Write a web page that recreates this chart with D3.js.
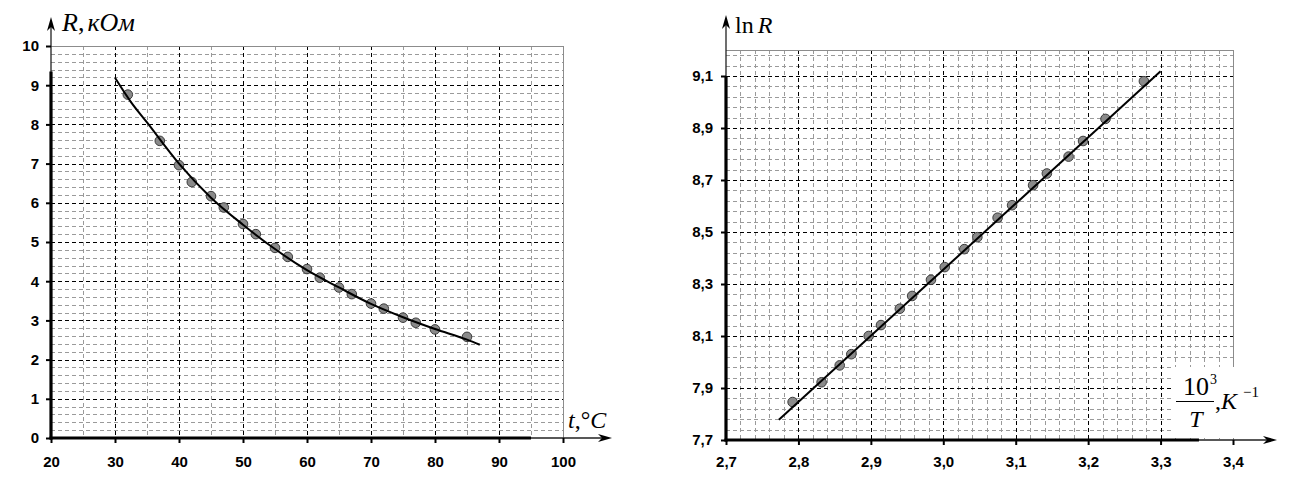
<!DOCTYPE html>
<html>
<head>
<meta charset="utf-8">
<script src="https://cdnjs.cloudflare.com/ajax/libs/d3/7.8.5/d3.min.js"></script>
<style>
    body { margin: 0; background: #fff; }
    svg { display: block; }
    .tick text { font-family: Arial, "Liberation Sans", sans-serif; font-weight: bold; font-size: 15px; fill: #000; }
    .math { font-family: "Times New Roman", "Liberation Serif", serif; fill: #000; }
</style>
</head>
<body>
<div id="chart-area"></div>
<script>
// LEFT: R (kOhm) vs t (°C)
var tempC = [32, 37, 40, 42, 45, 47, 50, 52, 55, 57, 60, 62, 65, 67, 70, 72, 75, 77, 80, 85];
var resistK = [8.76, 7.58, 6.96, 6.53, 6.17, 5.88, 5.46, 5.20, 4.85, 4.62, 4.31, 4.09, 3.84, 3.67, 3.43, 3.30, 3.07, 2.94, 2.77, 2.58];
var fitTemp = [30, 32.5, 35, 40, 45, 50, 55, 60, 65, 70, 75, 80, 85, 87];
var fitResist = [9.19, 8.57, 8.05, 7.0, 6.13, 5.44, 4.82, 4.28, 3.84, 3.42, 3.08, 2.78, 2.51, 2.38];
var tempTicks = [20, 30, 40, 50, 60, 70, 80, 90, 100];
var resistTicks = [0, 1, 2, 3, 4, 5, 6, 7, 8, 9, 10];

// RIGHT: ln R vs 10^3/T
var invTemp = [2.792, 2.832, 2.857, 2.873, 2.897, 2.914, 2.940, 2.957, 2.983, 3.002, 3.029, 3.047, 3.075, 3.095, 3.124, 3.143, 3.173, 3.193, 3.224, 3.277];
var lnResist = [7.846, 7.922, 7.987, 8.030, 8.100, 8.142, 8.205, 8.254, 8.316, 8.365, 8.434, 8.480, 8.555, 8.603, 8.680, 8.725, 8.790, 8.850, 8.935, 9.080];
var lineInvTemp = [2.773, 3.300];
var lineLnResist = [7.778, 9.118];
var invTempTicks = [2.7, 2.8, 2.9, 3.0, 3.1, 3.2, 3.3, 3.4];
var lnTicks = [7.7, 7.9, 8.1, 8.3, 8.5, 8.7, 8.9, 9.1];

var commaFormat = d3.formatLocale({decimal: ",", thousands: " ", grouping: [3], currency: ["", ""]}).format(".1f");

function Graph(svg, opts) {
    var self = this;
    self.svg = svg;
    self.opts = opts;
    self.init();
}

Graph.prototype.init = function() {
    var self = this;
    var o = self.opts;

    self.x = d3.scaleLinear().domain(o.xDomain).range(o.xRange);
    self.y = d3.scaleLinear().domain(o.yDomain).range(o.yRange);
    self.g = self.svg.append("g");

    self.renderGrid();
    self.renderAxes();
    self.renderData();
};

Graph.prototype.renderGrid = function() {
    var self = this;
    var o = self.opts;
    var x0 = self.x(o.xDomain[0]), x1 = self.x(o.xDomain[1]);
    var y0 = self.y(o.yDomain[0]), y1 = self.y(o.yDomain[1]);
    var grid = self.g.append("g").attr("shape-rendering", "crispEdges");

    function vLines(vals, color) {
        grid.selectAll(null).data(vals).enter().append("line")
            .attr("x1", function(d) { return Math.round(self.x(d)) + 0.5; })
            .attr("x2", function(d) { return Math.round(self.x(d)) + 0.5; })
            .attr("y1", y1).attr("y2", y0)
            .attr("stroke", color).attr("stroke-width", 1)
            .attr("stroke-dasharray", "4,3");
    }
    function hLines(vals, color) {
        grid.selectAll(null).data(vals).enter().append("line")
            .attr("y1", function(d) { return Math.round(self.y(d)) + 0.5; })
            .attr("y2", function(d) { return Math.round(self.y(d)) + 0.5; })
            .attr("x1", x0).attr("x2", x1)
            .attr("stroke", color).attr("stroke-width", 1)
            .attr("stroke-dasharray", "4,3");
    }

    vLines(o.xMinor, "#9a9a9a");
    hLines(o.yMinor, "#9a9a9a");
    vLines(o.xMajor, "#000");
    hLines(o.yMajor, "#000");

    // border top + right
    grid.append("path")
        .attr("d", "M" + x0 + "," + (Math.round(y1) + 0.5) + "H" + (Math.round(x1) + 0.5) + "V" + y0)
        .attr("fill", "none")
        .attr("stroke", "#8c8c8c")
        .attr("stroke-width", 1.3);
};

Graph.prototype.renderAxes = function() {
    var self = this;
    var o = self.opts;
    var ox = self.x(o.xDomain[0]), oy = self.y(o.yDomain[0]);

    // thin lines out to the arrow tips
    self.g.append("path")
        .attr("d", "M" + ox + "," + oy + "H" + (o.xArrow - 8) + "M" + ox + "," + oy + "V" + (o.yArrow + 8))
        .attr("fill", "none")
        .attr("stroke", "#222")
        .attr("stroke-width", 1.3);

    // arrow heads
    var ax = o.xArrow, ay = o.yArrow;
    self.g.append("path")
        .attr("d", "M" + ax + "," + oy + "L" + (ax - 14) + "," + (oy - 4) + "L" + (ax - 10) + "," + oy +
            "L" + (ax - 14) + "," + (oy + 4) + "Z")
        .attr("fill", "#000");
    self.g.append("path")
        .attr("d", "M" + ox + "," + ay + "L" + (ox - 4) + "," + (ay + 14) + "L" + ox + "," + (ay + 10) +
            "L" + (ox + 4) + "," + (ay + 14) + "Z")
        .attr("fill", "#000");

    // thick parts
    self.g.append("line")
        .attr("x1", ox - 1.5).attr("y1", oy).attr("x2", self.x(o.xThickEnd)).attr("y2", oy)
        .attr("stroke", "#000").attr("stroke-width", 3.2);
    self.g.append("line")
        .attr("x1", ox).attr("y1", oy + 1.5).attr("x2", ox).attr("y2", self.y(o.yThickEnd))
        .attr("stroke", "#000").attr("stroke-width", 3.2);

    var xAxis = d3.axisBottom(self.x)
        .tickValues(o.xTicks)
        .tickSize(5)
        .tickPadding(o.xPad)
        .tickFormat(o.fmt);
    var yAxis = d3.axisLeft(self.y)
        .tickValues(o.yTicks)
        .tickSize(5)
        .tickPadding(o.yPad)
        .tickFormat(o.fmt);

    var gx = self.g.append("g")
        .attr("transform", "translate(0," + oy + ")")
        .call(xAxis);
    var gy = self.g.append("g")
        .attr("transform", "translate(" + ox + ",0)")
        .call(yAxis);

    [gx, gy].forEach(function(a) {
        a.select(".domain").remove();
        a.selectAll(".tick line").attr("stroke", "#000").attr("stroke-width", 2);
        a.attr("font-family", null).attr("font-size", null);
    });
};

Graph.prototype.renderData = function() {
    var self = this;
    var o = self.opts;

    if (o.mask) {
        self.g.append("rect")
            .attr("x", o.mask[0]).attr("y", o.mask[1])
            .attr("width", o.mask[2]).attr("height", o.mask[3])
            .attr("fill", "#fff");
    }

    self.g.append("g").selectAll("circle")
        .data(o.px)
        .enter()
        .append("circle")
        .attr("cx", function(d) { return self.x(d); })
        .attr("cy", function(d, i) { return self.y(o.py[i]); })
        .attr("r", 4.8)
        .attr("fill", "#8a8a8a")
        .attr("stroke", "#3c3c3c")
        .attr("stroke-width", 1);

    var line = d3.line()
        .x(function(d) { return self.x(d[0]); })
        .y(function(d) { return self.y(d[1]); })
        .curve(d3.curveMonotoneX);

    self.g.append("path")
        .datum(d3.zip(o.lx, o.ly))
        .attr("d", line)
        .attr("fill", "none")
        .attr("stroke", "#000")
        .attr("stroke-width", 2);
};

var svg = d3.select("#chart-area").append("svg")
    .attr("width", 1301)
    .attr("height", 487);

var leftGraph = new Graph(svg, {
    xDomain: [20, 100], xRange: [51, 563],
    yDomain: [0, 10], yRange: [438, 46],
    xTicks: tempTicks, yTicks: resistTicks,
    xMinor: d3.range(25, 100, 10),
    xMajor: d3.range(30, 100, 10),
    yMinor: d3.range(1, 50).filter(function(i) { return i % 5 !== 0; }).map(function(i) { return i * 0.2; }),
    yMajor: d3.range(1, 10),
    xThickEnd: 95, yThickEnd: 9.35,
    xArrow: 612, yArrow: 17,
    xPad: 13, yPad: 7,
    fmt: d3.format("d"),
    px: tempC, py: resistK,
    lx: fitTemp, ly: fitResist
});

var rightGraph = new Graph(svg, {
    xDomain: [2.7, 3.4], xRange: [726, 1233],
    yDomain: [7.7, 9.2], yRange: [440, 50],
    xTicks: invTempTicks, yTicks: lnTicks,
    xMinor: d3.range(1, 35).filter(function(i) { return i % 5 !== 0; }).map(function(i) { return 2.7 + i * 0.02; }),
    xMajor: d3.range(1, 7).map(function(i) { return 2.7 + i * 0.1; }),
    yMinor: d3.range(1, 38).filter(function(i) { return i % 5 !== 0; }).map(function(i) { return 7.7 + i * 0.04; }),
    yMajor: d3.range(1, 8).map(function(i) { return 7.7 + i * 0.2; }),
    xThickEnd: 3.353, yThickEnd: 9.1,
    xArrow: 1277, yArrow: 15,
    xPad: 11, yPad: 8,
    fmt: commaFormat,
    mask: [1172, 367, 66, 71],
    px: invTemp, py: lnResist,
    lx: lineInvTemp, ly: lineLnResist
});

// AXIS TITLES
var t1 = svg.append("text").attr("class", "math").attr("x", 62).attr("y", 31).attr("font-size", 26);
t1.append("tspan").attr("font-style", "italic").text("R");
t1.append("tspan").text(",");
t1.append("tspan").attr("font-style", "italic").attr("dx", 3).text("кОм");

var t2 = svg.append("text").attr("class", "math").attr("x", 568).attr("y", 428).attr("font-size", 24);
t2.append("tspan").attr("font-style", "italic").text("t");
t2.append("tspan").text(",°");
t2.append("tspan").attr("font-style", "italic").text("C");

var t3 = svg.append("text").attr("class", "math").attr("x", 735).attr("y", 33).attr("font-size", 24);
t3.append("tspan").text("ln");
t3.append("tspan").attr("font-style", "italic").attr("dx", 4).text("R");

var lab = svg.append("g").attr("class", "math");
lab.append("text").attr("x", 1196).attr("y", 395).attr("text-anchor", "middle").attr("font-size", 26).text("10");
lab.append("text").attr("x", 1210).attr("y", 384).attr("font-size", 14).text("3");
lab.append("line").attr("x1", 1176).attr("x2", 1214).attr("y1", 401.5).attr("y2", 401.5)
    .attr("stroke", "#000").attr("stroke-width", 1.2);
lab.append("text").attr("x", 1196).attr("y", 427).attr("text-anchor", "middle").attr("font-size", 24)
    .attr("font-style", "italic").text("T");
lab.append("text").attr("x", 1215).attr("y", 409).attr("font-size", 24).text(",");
lab.append("text").attr("x", 1221).attr("y", 409).attr("font-size", 24).attr("font-style", "italic").text("K");
lab.append("text").attr("x", 1243).attr("y", 397).attr("font-size", 15).text("\u22121");
</script>
</body>
</html>
